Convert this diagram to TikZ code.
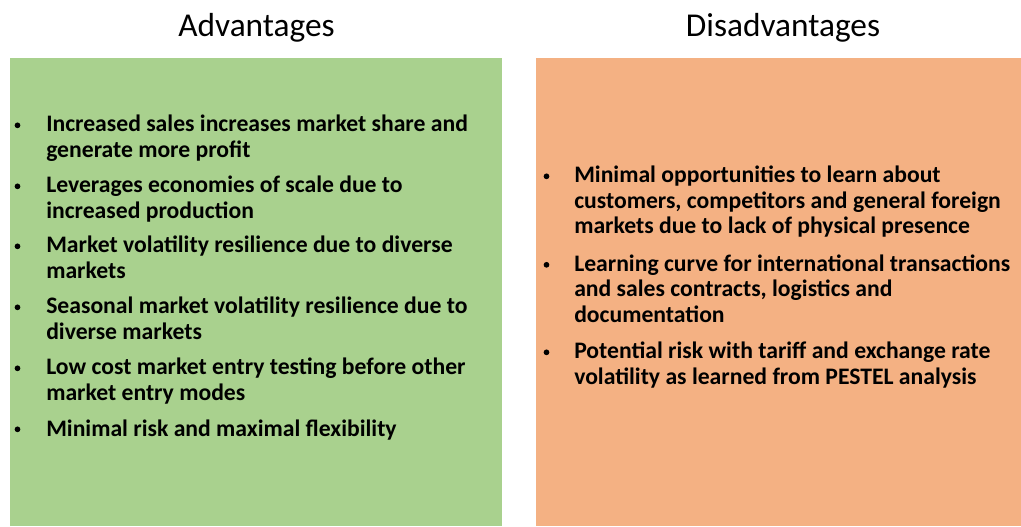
\documentclass[tikz,border=0pt]{standalone}
\usepackage{fontspec}
\setmainfont{Carlito}
\definecolor{advgreen}{HTML}{A9D18E}
\definecolor{disorange}{HTML}{F4B183}
\begin{document}
\begin{tikzpicture}[x=0.75pt, y=-0.75pt,
    heading/.style={font=\fontsize{25}{30}\selectfont, anchor=base, inner sep=0pt},
    point/.style={font=\bfseries\fontsize{17.75}{19}\selectfont, align=left, anchor=base west, inner sep=0pt},
    dot/.style={circle, fill=black, inner sep=0pt, minimum size=4.3pt}]
    \useasboundingbox (0,0) rectangle (1021,526);
    % the two panels
    \fill[advgreen] (10,58) rectangle (502,526);
    \fill[disorange] (536,58) rectangle (1021,526);
    \node[heading] (advtitle) at (256.5,36) {Advantages};
    \node[heading] (distitle) at (783,36) {Disadvantages};
    % advantages (\y = first baseline, \n = lines)
    \foreach \y/\n/\txt [count=\i] in {132/2/{Increased sales increases market share and\\generate more profit},
        193/2/{Leverages economies of scale due to\\increased production},
        253/2/{Market volatility resilience due to diverse\\markets},
        314/2/{Seasonal market volatility resilience due to\\diverse markets},
        375/2/{Low cost market entry testing before other\\market entry modes},
        436/1/{Minimal risk and maximal flexibility}}{
      \node[dot] (advdot\i) at (17.5,\y-6.7) {};
      \node[point] (adv\i) at (46,{\y+(\n-1)*25.3}) {\txt};
    }
    % disadvantages
    \foreach \y/\n/\txt [count=\i] in {183/3/{Minimal opportunities to learn about\\customers, competitors and general foreign\\markets due to lack of physical presence},
        271.5/3/{Learning curve for international transactions\\and sales contracts, logistics and\\documentation},
        359/2/{Potential risk with tariff and exchange rate\\volatility as learned from PESTEL analysis}}{
      \node[dot] (disdot\i) at (546.5,\y-6.7) {};
      \node[point] (dis\i) at (574,{\y+(\n-1)*25.3}) {\txt};
    }
\end{tikzpicture}
\end{document}
